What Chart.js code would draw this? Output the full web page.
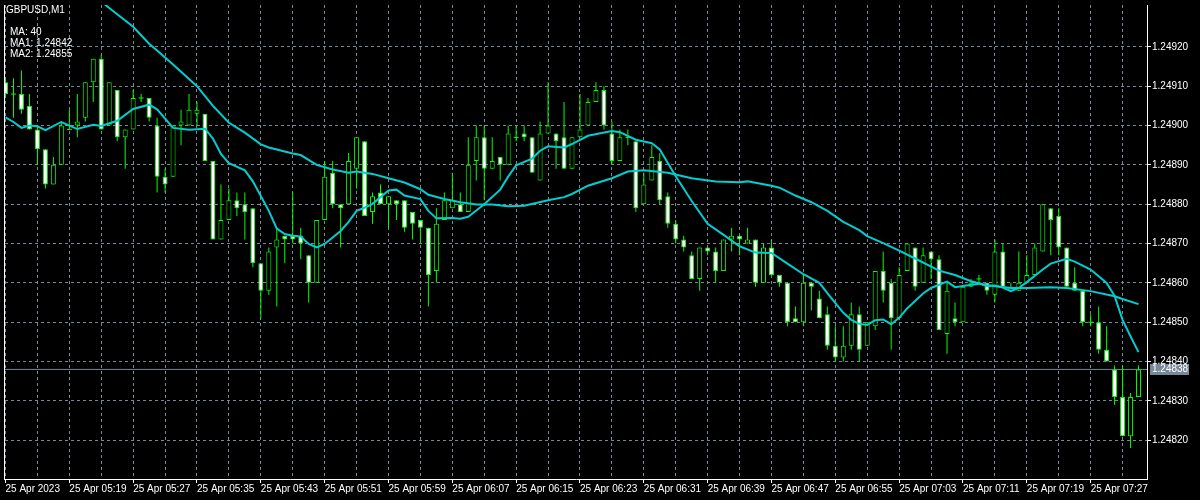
<!DOCTYPE html>
<html><head><meta charset="utf-8">
<script src="https://cdn.jsdelivr.net/npm/chart.js@4.4.0/dist/chart.umd.min.js"></script>
<style>html,body{margin:0;padding:0;background:#000;overflow:hidden}#wrap{width:1200px;height:500px;position:relative}</style>
</head><body><div id="wrap"><canvas id="c" width="1200" height="500"></canvas></div>
<script>
const symbolTitle = 'GBPUSD,M1';
const maInfo = ['MA: 40', 'MA1: 1.24842', 'MA2: 1.24855'];
const bidPrice = 1.24838;
const timeTickBars = [0,8,16,24,32,40,48,56,64,72,80,88,96,104,112,120,128,136];
const timeTickLabels = ['25 Apr 2023','25 Apr 05:19','25 Apr 05:27','25 Apr 05:35','25 Apr 05:43','25 Apr 05:51','25 Apr 05:59','25 Apr 06:07','25 Apr 06:15','25 Apr 06:23','25 Apr 06:31','25 Apr 06:39','25 Apr 06:47','25 Apr 06:55','25 Apr 07:03','25 Apr 07:11','25 Apr 07:19','25 Apr 07:27'];
const priceTicks = [1.24820,1.24830,1.24840,1.24850,1.24860,1.24870,1.24880,1.24890,1.24900,1.24910,1.24920];
const priceMin = 1.2481014, priceMax = 1.2493064;

const opens = [1.24911,1.24908,1.24908,1.24905,1.24899,1.24894,1.24885,1.24890,1.24899,1.24900,
1.24902,1.24911,1.24917,1.24900,1.24909,1.24897,1.24899,1.24907,1.24907,1.24900,
1.24887,1.24887,1.24900,1.24900,1.24903,1.24903,1.24891,1.24871,1.24876,1.24881,
1.24880,1.24879,1.24865,1.24858,1.24869,1.24872,1.24872,1.24872,1.24867,1.24860,
1.24876,1.24888,1.24880,1.24880,1.24889,1.24896,1.24878,1.24883,1.24880,1.24881,
1.24881,1.24878,1.24876,1.24874,1.24863,1.24876,1.24879,1.24880,1.24878,1.24891,
1.24897,1.24889,1.24892,1.24890,1.24897,1.24898,1.24897,1.24886,1.24898,1.24898,
1.24897,1.24889,1.24897,1.24900,1.24906,1.24909,1.24898,1.24891,1.24897,1.24896,
1.24880,1.24886,1.24891,1.24882,1.24875,1.24871,1.24867,1.24861,1.24869,1.24868,
1.24863,1.24871,1.24872,1.24870,1.24871,1.24860,1.24869,1.24862,1.24860,1.24851,
1.24850,1.24860,1.24856,1.24852,1.24844,1.24841,1.24844,1.24852,1.24844,1.24849,
1.24863,1.24860,1.24851,1.24863,1.24869,1.24860,1.24868,1.24866,1.24847,1.24851,
1.24850,1.24859,1.24861,1.24860,1.24857,1.24868,1.24858,1.24858,1.24860,1.24862,
1.24868,1.24879,1.24877,1.24869,1.24860,1.24858,1.24850,1.24850,1.24843,1.24838,
1.24831,1.24821,1.24831];
const highs = [1.24912,1.24912,1.24914,1.24908,1.24900,1.24894,1.24892,1.24901,1.24904,1.24908,
1.24911,1.24917,1.24918,1.24911,1.24909,1.24899,1.24909,1.24908,1.24907,1.24902,
1.24889,1.24900,1.24904,1.24908,1.24906,1.24903,1.24891,1.24885,1.24884,1.24883,
1.24883,1.24879,1.24865,1.24869,1.24874,1.24872,1.24883,1.24874,1.24867,1.24876,
1.24891,1.24891,1.24880,1.24893,1.24897,1.24896,1.24883,1.24885,1.24882,1.24881,
1.24881,1.24878,1.24876,1.24874,1.24879,1.24883,1.24888,1.24883,1.24897,1.24900,
1.24900,1.24897,1.24892,1.24900,1.24900,1.24900,1.24897,1.24901,1.24911,1.24898,
1.24906,1.24897,1.24908,1.24907,1.24911,1.24910,1.24901,1.24899,1.24899,1.24896,
1.24888,1.24895,1.24893,1.24883,1.24876,1.24872,1.24868,1.24869,1.24869,1.24869,
1.24871,1.24874,1.24872,1.24874,1.24871,1.24870,1.24871,1.24862,1.24860,1.24854,
1.24862,1.24860,1.24858,1.24854,1.24849,1.24849,1.24855,1.24854,1.24850,1.24863,
1.24868,1.24861,1.24864,1.24870,1.24869,1.24869,1.24868,1.24867,1.24860,1.24855,
1.24859,1.24861,1.24862,1.24860,1.24871,1.24870,1.24860,1.24868,1.24867,1.24870,
1.24880,1.24879,1.24879,1.24869,1.24864,1.24858,1.24852,1.24854,1.24849,1.24839,
1.24839,1.24832,1.24839];
const lows = [1.24907,1.24902,1.24903,1.24899,1.24890,1.24884,1.24885,1.24890,1.24899,1.24897,
1.24901,1.24906,1.24899,1.24900,1.24896,1.24889,1.24899,1.24906,1.24901,1.24883,
1.24883,1.24887,1.24895,1.24900,1.24900,1.24891,1.24871,1.24871,1.24876,1.24877,
1.24871,1.24864,1.24851,1.24857,1.24854,1.24865,1.24870,1.24866,1.24855,1.24860,
1.24876,1.24879,1.24869,1.24880,1.24884,1.24877,1.24875,1.24880,1.24874,1.24876,
1.24873,1.24871,1.24870,1.24854,1.24860,1.24876,1.24879,1.24878,1.24878,1.24886,
1.24881,1.24889,1.24886,1.24890,1.24896,1.24896,1.24888,1.24886,1.24898,1.24889,
1.24889,1.24889,1.24897,1.24900,1.24906,1.24899,1.24890,1.24891,1.24895,1.24878,
1.24880,1.24886,1.24880,1.24874,1.24870,1.24868,1.24861,1.24858,1.24867,1.24860,
1.24863,1.24868,1.24867,1.24870,1.24859,1.24860,1.24862,1.24859,1.24849,1.24850,
1.24849,1.24853,1.24851,1.24843,1.24840,1.24840,1.24843,1.24840,1.24844,1.24848,
1.24855,1.24843,1.24851,1.24863,1.24858,1.24860,1.24861,1.24848,1.24842,1.24849,
1.24850,1.24859,1.24860,1.24857,1.24855,1.24859,1.24858,1.24858,1.24860,1.24862,
1.24868,1.24867,1.24867,1.24859,1.24858,1.24849,1.24849,1.24842,1.24840,1.24829,
1.24821,1.24818,1.24831];
const closes = [1.24908,1.24908,1.24904,1.24899,1.24894,1.24885,1.24890,1.24900,1.24899,1.24901,
1.24911,1.24917,1.24899,1.24911,1.24897,1.24899,1.24907,1.24907,1.24902,1.24887,
1.24885,1.24900,1.24901,1.24904,1.24904,1.24891,1.24871,1.24876,1.24881,1.24879,
1.24878,1.24865,1.24858,1.24868,1.24871,1.24871,1.24871,1.24870,1.24860,1.24876,
1.24887,1.24880,1.24879,1.24891,1.24897,1.24877,1.24882,1.24880,1.24882,1.24880,
1.24874,1.24875,1.24874,1.24862,1.24875,1.24881,1.24881,1.24878,1.24890,1.24897,
1.24889,1.24891,1.24890,1.24898,1.24897,1.24897,1.24888,1.24898,1.24900,1.24896,
1.24889,1.24897,1.24899,1.24906,1.24909,1.24900,1.24891,1.24897,1.24897,1.24879,
1.24885,1.24892,1.24881,1.24875,1.24871,1.24869,1.24861,1.24869,1.24868,1.24863,
1.24871,1.24872,1.24871,1.24871,1.24860,1.24869,1.24862,1.24860,1.24850,1.24850,
1.24860,1.24859,1.24851,1.24844,1.24841,1.24844,1.24852,1.24843,1.24850,1.24863,
1.24858,1.24851,1.24862,1.24870,1.24859,1.24867,1.24866,1.24848,1.24858,1.24850,
1.24859,1.24860,1.24861,1.24858,1.24868,1.24859,1.24859,1.24860,1.24862,1.24869,
1.24880,1.24876,1.24869,1.24859,1.24858,1.24850,1.24850,1.24843,1.24840,1.24831,
1.24821,1.24831,1.24838];

const maSlowBars = [10,13,16,18,19,21,24,26,28,30,32,33,36,37,39,41,43,44,46,48,50,52,53,55,57,59,61,63,65,68,70,71,73,76,78,80,83,86,89,92,93,96,97,99,101,103,105,107,108,110,112,114,117,119,121,123,126,128,131,133,136,139,140,142];
const maSlowValues = [1.249347,1.249299,1.249251,1.249208,1.249191,1.249155,1.249100,1.249050,1.249007,1.248982,
1.248952,1.248944,1.248929,1.248925,1.248900,1.248888,1.248880,1.248883,1.248877,1.248866,
1.248855,1.248838,1.248824,1.248813,1.248805,1.248799,1.248799,1.248795,1.248796,1.248810,
1.248818,1.248826,1.248847,1.248866,1.248883,1.248886,1.248880,1.248866,1.248858,1.248856,
1.248858,1.248847,1.248842,1.248822,1.248805,1.248783,1.248755,1.248734,1.248719,1.248701,
1.248682,1.248662,1.248631,1.248620,1.248604,1.248594,1.248587,1.248587,1.248589,1.248587,
1.248579,1.248566,1.248559,1.248546];
const maFastBars = [0,1,2,3,4,5,7,9,11,12,14,16,18,19,21,23,25,26,27,28,30,31,33,34,35,36,37,38,39,40,42,43,44,45,46,48,49,50,52,53,54,56,57,58,59,60,62,63,64,66,67,68,70,71,73,76,77,79,81,82,84,86,88,90,92,94,96,98,100,102,103,105,106,107,108,109,110,111,112,113,115,116,118,119,120,122,123,124,125,126,127,128,130,131,133,134,136,138,139,140,141,142];
const maFastValues = [1.249021,1.249009,1.248994,1.249000,1.248998,1.248988,1.249009,1.248991,1.249002,1.248999,
1.249012,1.249042,1.249053,1.249041,1.248994,1.248989,1.248992,1.248967,1.248928,1.248904,
1.248886,1.248858,1.248783,1.248738,1.248724,1.248720,1.248718,1.248699,1.248690,1.248699,
1.248732,1.248755,1.248783,1.248791,1.248801,1.248835,1.248837,1.248822,1.248813,1.248783,
1.248764,1.248765,1.248763,1.248768,1.248784,1.248800,1.248837,1.248870,1.248899,1.248916,
1.248936,1.248947,1.248944,1.248953,1.248974,1.248986,1.248983,1.248964,1.248955,1.248939,
1.248871,1.248808,1.248750,1.248722,1.248693,1.248677,1.248676,1.248649,1.248622,1.248600,
1.248574,1.248524,1.248506,1.248496,1.248493,1.248505,1.248507,1.248495,1.248511,1.248535,
1.248573,1.248587,1.248603,1.248589,1.248592,1.248598,1.248592,1.248593,1.248588,1.248579,
1.248587,1.248602,1.248634,1.248649,1.248661,1.248654,1.248634,1.248600,1.248567,1.248506,
1.248464,1.248424];

// ---- build datasets ----
const GREEN = '#00ff00', CYAN = '#00ced1', GRID = '#778899';
const wickData = [], bodyData = [], bodyFill = [], dojiData = [];
opens.forEach((o, i) => {
  const c = closes[i];
  wickData.push({x: i, y: [lows[i], highs[i]]});
  if (o === c) dojiData.push({x: i, y: o});
  else { bodyData.push({x: i, y: [Math.min(o, c), Math.max(o, c)]}); bodyFill.push(c > o ? '#000000' : '#ffffff'); }
});
const fastData = maFastBars.map((b, k) => ({x: b, y: maFastValues[k]}));
const slowData = maSlowBars.map((b, k) => ({x: b, y: maSlowValues[k]}));
const xMin = -0.0625, xMax = xMin + 1145 / 8;
const bidData = [{x: xMin, y: bidPrice}, {x: xMax, y: bidPrice}];

Chart.defaults.font.family = '"Liberation Sans", Arial, sans-serif';
Chart.defaults.font.size = 10;
Chart.defaults.color = '#ffffff';

const overlay = {
  id: 'overlay',
  afterDraw(chart) {
    const {ctx, chartArea, scales} = chart;
    ctx.save();
    ctx.strokeStyle = '#ffffff'; ctx.lineWidth = 1;
    ctx.beginPath(); ctx.moveTo(chartArea.left - 0.5, chartArea.top); ctx.lineTo(chartArea.left - 0.5, chartArea.bottom + 1); ctx.stroke();
    ctx.fillStyle = '#ffffff';
    ctx.font = '10px "Liberation Sans", Arial, sans-serif';
    ctx.textBaseline = 'alphabetic'; ctx.textAlign = 'left';
    ctx.fillText(symbolTitle, 6, 13);
    maInfo.forEach((t, k) => ctx.fillText(t, 10, 35 + 11 * k));
    const y = scales.y.getPixelForValue(bidPrice);
    ctx.fillStyle = GRID;
    ctx.fillRect(chartArea.right + 3, Math.round(y) - 5, 39, 11);
    ctx.fillStyle = '#ffffff'; ctx.textBaseline = 'middle';
    ctx.fillText(bidPrice.toFixed(5), chartArea.right + 5, Math.round(y) + 0.5);
    ctx.restore();
  }
};

new Chart(document.getElementById('c'), {
  type: 'bar',
  data: {
    datasets: [
      {type: 'line', data: fastData, borderColor: CYAN, borderWidth: 2, pointRadius: 0, tension: 0, order: 1},
      {type: 'line', data: slowData, borderColor: CYAN, borderWidth: 2, pointRadius: 0, tension: 0, order: 2},
      {type: 'line', data: dojiData, showLine: false, pointStyle: 'line', pointRadius: 2.5, pointBorderWidth: 1, pointBorderColor: GREEN, borderColor: GREEN, order: 3},
      {data: bodyData, backgroundColor: bodyFill, borderColor: GREEN, borderWidth: 1, borderSkipped: false, barThickness: 5, maxBarThickness: 5, grouped: false, inflateAmount: 0, order: 4},
      {data: wickData, backgroundColor: GREEN, borderWidth: 0, barThickness: 1, maxBarThickness: 1, grouped: false, inflateAmount: 0, order: 5},
      {type: 'line', data: bidData, borderColor: GRID, borderWidth: 1, pointRadius: 0, order: 6}
    ]
  },
  options: {
    responsive: false, animation: false, devicePixelRatio: 1,
    layout: {padding: {left: 2, top: 0, right: 0, bottom: 0}},
    plugins: {legend: {display: false}, tooltip: {enabled: false}},
    scales: {
      x: {
        type: 'linear', min: xMin, max: xMax, offset: false,
        grid: {offset: false, color: GRID, lineWidth: 1, tickLength: 4,
          tickColor: (ctx) => (ctx.tick && timeTickBars.includes(ctx.tick.value)) ? '#ffffff' : 'rgba(0,0,0,0)'},
        border: {display: true, color: '#ffffff', width: 1, dash: [3, 3]},
        ticks: {autoSkip: false, maxRotation: 0, minRotation: 0, align: 'start', padding: 0, color: '#ffffff',
          callback: (v) => { const k = timeTickBars.indexOf(v); return k >= 0 ? timeTickLabels[k] : ''; }},
        afterBuildTicks: (s) => { const t = []; for (let b = 0; b <= opens.length; b += 4) t.push({value: b}); s.ticks = t; },
        afterFit: (s) => { s.height = 21; s.paddingLeft = 0; s.paddingRight = 0; }
      },
      y: {
        type: 'linear', position: 'right', min: priceMin, max: priceMax,
        grid: {color: GRID, lineWidth: 1, tickLength: 4, tickColor: '#ffffff'},
        border: {display: true, color: '#ffffff', width: 1, dash: [3, 3]},
        ticks: {padding: 1, color: '#ffffff', callback: (v) => Number(v).toFixed(5)},
        afterBuildTicks: (s) => { s.ticks = priceTicks.map(v => ({value: v})); },
        afterFit: (s) => { s.width = 53; s.paddingTop = 0; s.paddingBottom = 0; }
      }
    }
  },
  plugins: [overlay]
});
</script></body></html>
